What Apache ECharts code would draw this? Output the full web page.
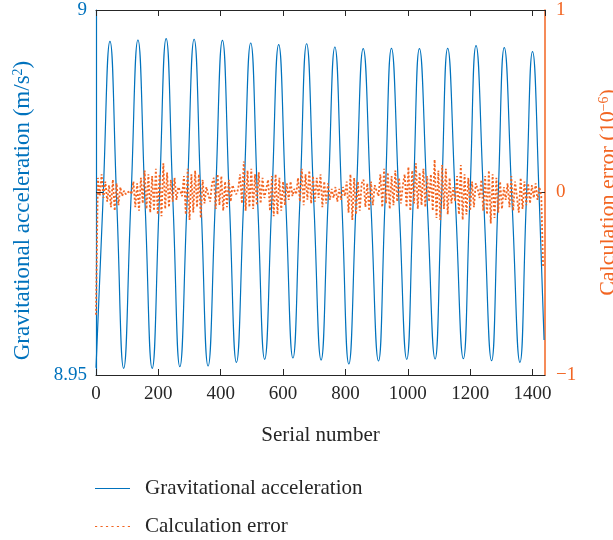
<!DOCTYPE html>
<html>
<head>
<meta charset="utf-8">
<script src="https://cdn.jsdelivr.net/npm/echarts@6/dist/echarts.min.js"></script>
<style>
  html, body { margin: 0; padding: 0; background: #fff; }
  #main { width: 613px; height: 540px; }
</style>
</head>
<body>
<div id="main"></div>
<script>
// gravitational acceleration: troughs, mid crossings and peaks
var gSerial = [0, 22, 44.8, 66.7, 88.7, 111.6, 134.5, 157.3, 180.2, 202.6, 225, 247, 268.9, 291.8,
  314.7, 337, 359.5, 382.5, 405.5, 428, 450.4, 473.3, 496.2, 518.6, 541, 563.5, 585.9, 608.8,
  631.6, 653.6, 675.5, 698.7, 721.9, 744, 766.1, 788.5, 810.9, 834, 857, 881.5, 906, 926.8,
  947.6, 972, 996.6, 1017, 1037.3, 1062.4, 1087.5, 1107.7, 1127.9, 1153, 1178.1, 1198.5,
  1218.8, 1243.8, 1268.7, 1289, 1309.4, 1334.5, 1359.6, 1379.8, 1400, 1422, 1437];
var gValue = [8.9510, 8.9735, 8.99571, 8.9735, 8.95092, 8.9735, 8.99589, 8.9735, 8.95092, 8.9735,
  8.99607, 8.9735, 8.95114, 8.9735, 8.99599, 8.9735, 8.95123, 8.9735, 8.99585, 8.9735, 8.95174,
  8.9735, 8.99548, 8.9735, 8.95215, 8.9735, 8.99525, 8.9735, 8.95233, 8.9735, 8.99538, 8.9735,
  8.95205, 8.9735, 8.99493, 8.9735, 8.95151, 8.9735, 8.9947, 8.9735, 8.95192, 8.9735, 8.99475,
  8.9735, 8.95215, 8.9735, 8.9947, 8.9735, 8.95219, 8.9735, 8.99475, 8.9735, 8.95223, 8.9735,
  8.99511, 8.9735, 8.95196, 8.9735, 8.99484, 8.9735, 8.95174, 8.9735, 8.99429, 8.9735, 8.9548];

// calculation error (x 1e-6), one sample every 6 serial numbers
var errStep = 6;
var errValue = [
  -0.67, 0.08, -0.02, 0.1, -0.03, 0.06, -0.05, 0.04, -0.08, 0.07, -0.1, 0.05, -0.07, 0.03, -0.02,
  0.01, -0.01, 0.0, 0.01, -0.01, 0.06, -0.08, 0.05, -0.1, 0.08, -0.06, 0.12, -0.09, 0.1, -0.11,
  0.09, -0.1, 0.13, -0.12, 0.1, -0.13, 0.16, -0.09, 0.11, -0.08, 0.07, -0.05, 0.08, -0.04, 0.03,
  0.01, -0.02, 0.09, -0.12, 0.13, -0.15, 0.1, -0.11, 0.12, -0.08, 0.1, -0.14, 0.07, -0.06, 0.03,
  0.04, -0.05, 0.05, 0.08, -0.09, 0.1, -0.07, 0.09, -0.1, 0.06, -0.08, 0.07, -0.05, 0.04, 0.01,
  -0.01, 0.02, 0.1, -0.06, 0.17, -0.1, 0.12, -0.08, 0.13, -0.09, 0.1, -0.07, 0.11, -0.06, 0.08,
  -0.03, 0.02, 0.07, -0.1, 0.09, -0.13, 0.1, -0.12, 0.08, -0.1, 0.06, -0.07, 0.05, -0.04, 0.06,
  -0.02, 0.02, -0.01, 0.08, -0.05, 0.13, -0.07, 0.1, -0.04, 0.12, -0.06, 0.09, -0.05, 0.08, -0.03,
  0.1, -0.08, 0.06, -0.06, 0.05, -0.04, 0.02, -0.03, 0.03, -0.05, 0.02, -0.04, 0.03, -0.02, 0.06,
  -0.11, 0.1, -0.15, 0.08, -0.12, 0.06, -0.1, 0.05, 0.07, -0.08, 0.05, -0.1, 0.06, -0.07, 0.04,
  0.03, -0.02, 0.1, -0.08, 0.13, -0.06, 0.11, -0.09, 0.09, -0.07, 0.12, -0.05, 0.08, -0.06, 0.04,
  0.1, -0.08, 0.14, -0.1, 0.12, -0.06, 0.16, -0.09, 0.11, -0.07, 0.13, -0.08, 0.09, -0.05, 0.1,
  -0.1, 0.18, -0.14, 0.12, -0.15, 0.15, -0.09, 0.13, -0.12, 0.08, -0.06, 0.03, -0.05, 0.09, -0.12,
  0.15, -0.15, 0.1, -0.12, 0.08, -0.1, 0.06, -0.08, 0.05, 0.02, -0.03, 0.07, -0.1, 0.09, -0.12,
  0.12, -0.17, 0.1, -0.14, 0.08, -0.11, 0.06, -0.09, 0.03, -0.04, 0.05, -0.08, 0.09, -0.1, 0.06,
  0.07, -0.11, 0.08, -0.09, 0.06, -0.07, 0.05, -0.06, 0.04, -0.03, 0.05, -0.04, 0.03, -0.02, -0.41
];

var xTicks = [0, 1440, 200];      // min, max, interval
var leftTicks = [8.95, 9, 0.025];
var rightTicks = [-1, 1, 1];

var blue = '#0072BD';
var orange = '#F26522';
var dark = '#262626';
var font = '"Liberation Serif", "DejaVu Serif", serif';

var gData = gSerial.map(function (s, i) { return [s, gValue[i]]; });
var errData = errValue.map(function (v, i) { return [i * errStep, v]; });

var myChart = echarts.init(document.getElementById('main'));
var option = {
  animation: false,
  textStyle: { fontFamily: font },
  grid: { left: 96, right: 68, top: 10, bottom: 165, containLabel: false, outerBoundsMode: 'none' },
  legend: {
    orient: 'vertical',
    left: 95,
    top: 478,
    padding: 0,
    itemGap: 17,
    itemWidth: 35,
    itemHeight: 12,
    textStyle: { fontFamily: font, fontSize: 21, color: dark, padding: [0, 0, 0, 10] },
    data: [
      { name: 'Gravitational acceleration', icon: 'path://M0,0 L36,0 L36,1 L0,1 Z' },
      { name: 'Calculation error', icon: 'path://M0,0 L2,0 L2,1 L0,1 Z M5,0 L7,0 L7,1 L5,1 Z M10,0 L12,0 L12,1 L10,1 Z M15,0 L17,0 L17,1 L15,1 Z M20,0 L22,0 L22,1 L20,1 Z M25,0 L27,0 L27,1 L25,1 Z M30,0 L32,0 L32,1 L30,1 Z' }
    ]
  },
  xAxis: [
    {
      type: 'value',
      min: xTicks[0], max: xTicks[1], interval: xTicks[2],
      name: 'Serial number',
      nameLocation: 'middle',
      nameGap: 50,
      nameTextStyle: { fontFamily: font, fontSize: 21, color: dark },
      axisLine: { onZero: false, lineStyle: { color: dark, width: 1 } },
      axisTick: { inside: true, length: 6, lineStyle: { color: dark } },
      axisLabel: {
        fontFamily: font, fontSize: 19, color: dark, margin: 10, showMaxLabel: false,
        formatter: function (v) { return String(v); }
      },
      splitLine: { show: false }
    },
    {
      type: 'value',
      position: 'top',
      min: xTicks[0], max: xTicks[1], interval: xTicks[2],
      axisLine: { onZero: false, lineStyle: { color: dark, width: 1 } },
      axisTick: { inside: true, length: 6, lineStyle: { color: dark } },
      axisLabel: { show: false },
      splitLine: { show: false }
    }
  ],
  yAxis: [
    {
      type: 'value',
      position: 'left',
      min: leftTicks[0], max: leftTicks[1], interval: leftTicks[2],
      name: 'Gravitational acceleration (m/s{s|2})',
      nameLocation: 'middle',
      nameGap: 62,
      nameRotate: 90,
      nameTextStyle: {
        fontFamily: font, fontSize: 23, color: blue, padding: [0, 36, 0, 0],
        rich: {
          s: { fontFamily: font, fontSize: 14, color: blue, verticalAlign: 'top', padding: [0, 0, 9, 0] }
        }
      },
      axisLine: { show: true, onZero: false, lineStyle: { color: blue, width: 1.2 } },
      axisTick: { inside: true, length: 7, lineStyle: { color: dark } },
      axisLabel: {
        fontFamily: font, fontSize: 19, color: blue, margin: 9,
        formatter: function (v) { return Math.abs(v - 8.975) < 1e-6 ? '' : String(+v.toFixed(2)); }
      },
      splitLine: { show: false }
    },
    {
      type: 'value',
      position: 'right',
      min: rightTicks[0], max: rightTicks[1], interval: rightTicks[2],
      name: 'Calculation error (10{s|−6})',
      nameLocation: 'middle',
      nameGap: 52,
      nameRotate: 90,
      nameTextStyle: {
        fontFamily: font, fontSize: 22, color: orange,
        rich: { s: { fontFamily: font, fontSize: 14, color: orange, verticalAlign: 'top', padding: [0, 0, 9, 0] } }
      },
      axisLine: { show: true, onZero: false, lineStyle: { color: orange, width: 1.5 } },
      axisTick: { inside: true, length: 7, lineStyle: { color: dark } },
      axisLabel: {
        fontFamily: font, fontSize: 19, color: orange, margin: 11,
        formatter: function (v) { return String(v).replace('-', '−'); }
      },
      splitLine: { show: false }
    }
  ],
  series: [
    {
      name: 'Gravitational acceleration',
      type: 'line',
      xAxisIndex: 0,
      yAxisIndex: 0,
      data: gData,
      smooth: 0.5,
      showSymbol: false,
      lineStyle: { color: blue, width: 1.2 },
      itemStyle: { color: blue },
      z: 2
    },
    {
      name: 'Calculation error',
      type: 'line',
      xAxisIndex: 0,
      yAxisIndex: 1,
      data: errData,
      showSymbol: false,
      lineStyle: { color: orange, width: 1.8, type: [2, 2] },
      itemStyle: { color: orange },
      z: 3
    }
  ]
};
myChart.setOption(option);
</script>
</body>
</html>
